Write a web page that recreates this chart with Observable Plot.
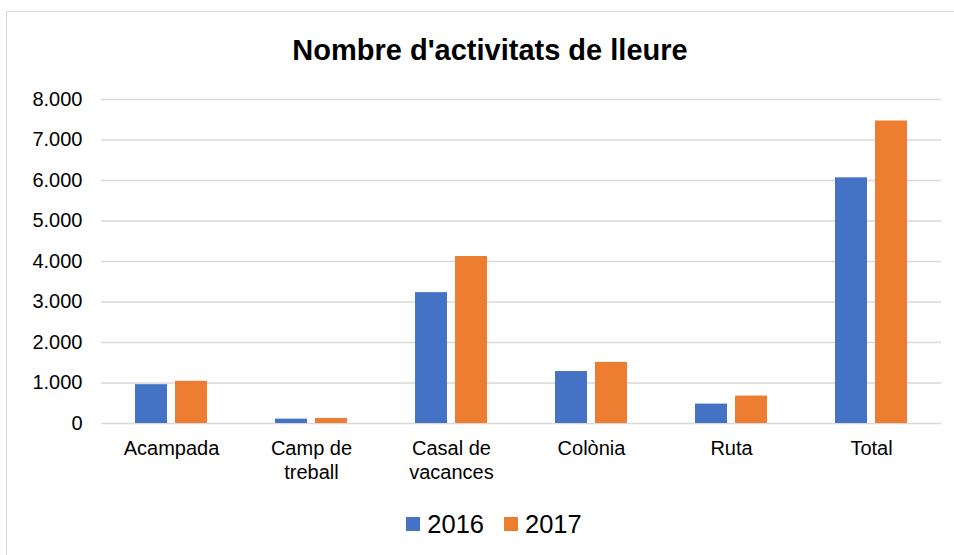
<!DOCTYPE html>
<html><head><meta charset="utf-8">
<script src="https://cdn.jsdelivr.net/npm/d3@7"></script>
<script src="https://cdn.jsdelivr.net/npm/@observablehq/plot@0.6"></script>
<style>
body{margin:0;background:#fff;font-family:"Liberation Sans",Arial,sans-serif;}
#wrap{position:relative;width:954px;height:555px;overflow:hidden;background:#fff;}
#frame{position:absolute;left:6px;top:11px;width:1000px;height:600px;border:1.3px solid #d9d9d9;box-sizing:border-box;}
#title{position:absolute;left:13px;top:33px;width:954px;text-align:center;font-weight:bold;font-size:29px;color:#000;line-height:34px;}
#chart{position:absolute;left:0;top:80px;}
#legend{position:absolute;top:508px;left:17px;width:954px;display:flex;justify-content:center;align-items:center;gap:20px;font-size:25.5px;color:#000;line-height:32px;}
.item{display:flex;align-items:center;gap:7px;}
.sw{width:14px;height:14px;display:inline-block;}
</style>
</head><body>
<div id="wrap">
<div id="frame"></div>
<div id="title">Nombre d'activitats de lleure</div>
<div id="chart"></div>
<div id="legend"></div>
</div>
<script>
const categories = ["Acampada", "Camp de treball", "Casal de vacances", "Colònia", "Ruta", "Total"];
const years = ["2016", "2017"];
const values2016 = [958, 108, 3231, 1283, 479, 6066];
const values2017 = [1042, 125, 4124, 1508, 678, 7469];
const yTicks = [0, 1000, 2000, 3000, 4000, 5000, 6000, 7000, 8000];
const colors = ["#4472C4", "#ED7D31"];

const data = [];
categories.forEach((c, i) => {
  data.push({category: c, year: years[0], value: values2016[i]});
  data.push({category: c, year: years[1], value: values2017[i]});
});

const loc = d3.formatLocale({decimal: ",", thousands: ".", grouping: [3], currency: ["", " €"]});
const fmt = loc.format(",");

const chart = Plot.plot({
  width: 954,
  height: 420,
  marginLeft: 100,
  marginRight: 13,
  marginTop: 19,
  marginBottom: 77,
  style: {fontFamily: "'Liberation Sans', Arial, sans-serif", fontSize: "20px", color: "#000", background: "transparent"},
  fx: {domain: categories, padding: 0, label: null},
  x: {domain: years, paddingInner: 0.2, paddingOuter: 0.85, axis: null},
  y: {domain: [0, 8000], label: null},
  color: {domain: years, range: colors},
  marks: [
    Plot.gridY(yTicks, {stroke: "#d9d9d9", strokeOpacity: 1, strokeWidth: 1.3}),
    Plot.barY(data, {fx: "category", x: "year", y: "value", fill: "year"}),
    Plot.axisY(yTicks, {tickSize: 0, tickPadding: 19, fontSize: 20, tickFormat: fmt, label: null}),
    Plot.axisFx({anchor: "bottom", tickSize: 0, tickPadding: 15, fontSize: 20, lineHeight: 1.18, tickFormat: d => d.replace(" de ", " de\n"), label: null})
  ]
});
document.getElementById("chart").appendChild(chart);

const legend = document.getElementById("legend");
years.forEach((y, i) => {
  const it = document.createElement("div");
  it.className = "item";
  const sw = document.createElement("span");
  sw.className = "sw";
  sw.style.background = colors[i];
  const t = document.createElement("span");
  t.textContent = y;
  it.appendChild(sw); it.appendChild(t);
  legend.appendChild(it);
});
</script>
</body></html>
